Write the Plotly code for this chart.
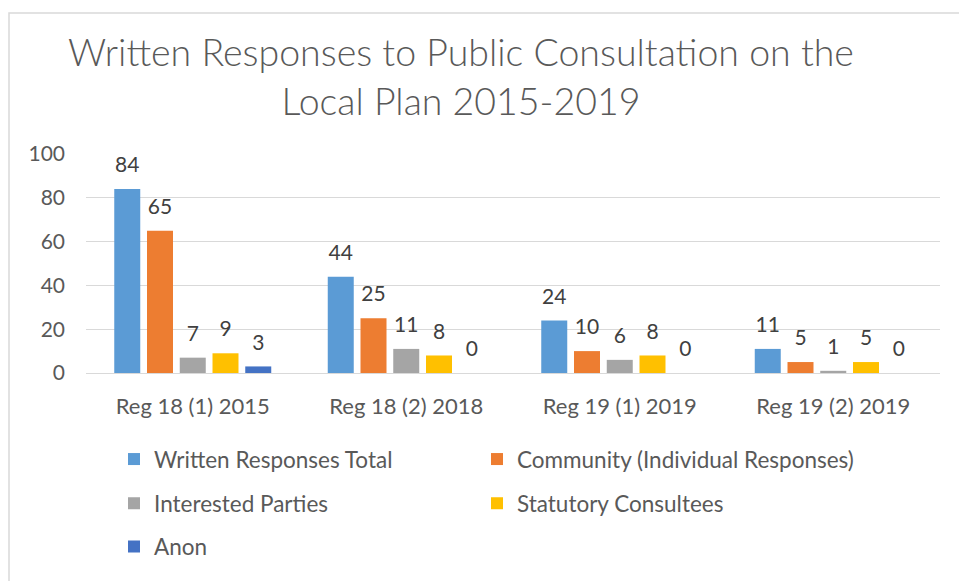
import plotly.graph_objects as go

categories = ["Reg 18 (1) 2015", "Reg 18 (2) 2018", "Reg 19 (1) 2019", "Reg 19 (2) 2019"]
written_total = [84, 44, 24, 11]
community = [65, 25, 10, 5]
interested = [7, 11, 6, 1]
statutory = [9, 8, 8, 5]
anon = [3, 0, 0, 0]

series_names = [
    "Written Responses Total",
    "Community (Individual Responses)",
    "Interested Parties",
    "Statutory Consultees",
    "Anon",
]
series_values = [written_total, community, interested, statutory, anon]
colors = ["#5B9BD5", "#ED7D31", "#A5A5A5", "#FFC000", "#4472C4"]
legend_ids = ["legend", "legend2", "legend3", "legend4", "legend5"]

FONT = "Lato, 'Open Sans', sans-serif"
TEXT_COLOR = "#595959"
LABEL_PAD = 4.5  # gap (in axis units) between bar top and its data label

fig = go.Figure()
for i, (name, vals, col, lg) in enumerate(zip(series_names, series_values, colors, legend_ids)):
    fig.add_trace(go.Bar(
        x=categories, y=vals, name=name, marker_color=col,
        marker_line_width=0, offsetgroup=str(i), legend=lg,
    ))
for i, vals in enumerate(series_values):
    fig.add_trace(go.Bar(
        x=categories, y=[LABEL_PAD] * len(vals), base=vals,
        marker_color="rgba(0,0,0,0)", marker_line_width=0,
        text=[str(v) for v in vals], textposition="outside",
        textfont=dict(family=FONT, size=21, color="#404040"),
        constraintext="none", cliponaxis=False,
        offsetgroup=str(i), showlegend=False, hoverinfo="skip",
    ))

W, H = 959, 581
ml, mr, mt, mb = 86, 19, 154, 204
pw, ph = W - ml - mr, H - mt - mb

def px2x(px):
    return (px - ml) / pw

def px2y(py):
    return (H - mb - py) / ph

legend_common = dict(
    orientation="v",
    font=dict(family=FONT, size=22.5, color=TEXT_COLOR),
    bgcolor="rgba(0,0,0,0)", xanchor="left", yanchor="middle",
    itemclick=False, itemdoubleclick=False,
)
col_x = [114, 477]
row_y = [465, 510, 554]
legend_pos = [(0, 0), (1, 0), (0, 1), (1, 1), (0, 2)]
legends = {}
for lg, (c, r) in zip(legend_ids, legend_pos):
    legends[lg] = dict(x=px2x(col_x[c]), y=px2y(row_y[r]), **legend_common)

fig.update_layout(
    width=W, height=H,
    margin=dict(l=ml, r=mr, t=mt, b=mb, pad=0),
    paper_bgcolor="white", plot_bgcolor="white",
    barmode="group", bargap=0.233, bargroupgap=0.206,
    title=dict(
        text="Written Responses to Public Consultation on the<br>Local Plan 2015-2019",
        font=dict(family=FONT, size=37.5, color=TEXT_COLOR, weight=300),
        x=461 / W, xanchor="center", xref="container",
        y=1 - 66 / H, yanchor="middle", yref="container",
    ),
    xaxis=dict(
        showgrid=False, showline=True, linecolor="#D9D9D9", linewidth=1,
        tickfont=dict(family=FONT, size=22, color=TEXT_COLOR),
        ticks="", ticklabelstandoff=14,
    ),
    yaxis=dict(
        range=[0, 100], dtick=20, showgrid=True, gridcolor="#D9D9D9", gridwidth=1,
        zeroline=True, zerolinecolor="#D9D9D9", zerolinewidth=1,
        tickfont=dict(family=FONT, size=21, color=TEXT_COLOR),
        ticks="", ticklabelstandoff=20,
    ),
    shapes=[dict(
        type="rect", xref="paper", yref="paper",
        x0=px2x(9), x1=px2x(W + 30), y0=px2y(H + 30), y1=px2y(10.5),
        line=dict(color="#D9D9D9", width=1.5), fillcolor="rgba(0,0,0,0)",
        layer="below",
    )],
    showlegend=True,
    **legends,
)

fig.write_html(
    "out.html",
    config={"displayModeBar": False},
    post_script="document.body.style.margin='0';document.body.style.overflow='hidden';",
)
